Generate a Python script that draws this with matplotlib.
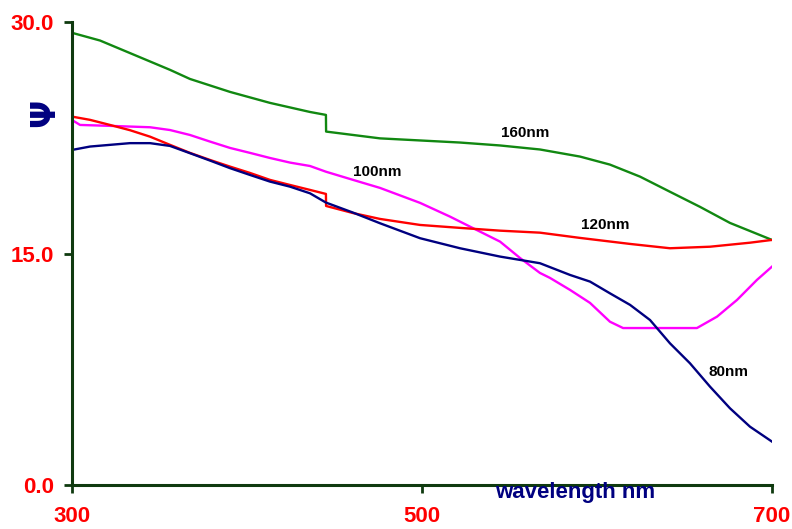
import matplotlib
matplotlib.use("Agg")
import matplotlib.pyplot as plt

plt.rcParams['font.family'] = ['Liberation Sans', 'DejaVu Sans']

# 160 nm (green)
wl_160 = [300, 316, 356, 367.4, 390.3, 413.1, 436, 445.1, 445.2, 476, 521.7, 544.6,
          567.4, 590.3, 607.4, 624.6, 641.7, 658.9, 676, 700]
psi_160 = [29.3, 28.8, 26.9, 26.31, 25.47, 24.76, 24.17, 23.98, 22.9, 22.46, 22.19, 22.0,
           21.74, 21.28, 20.76, 19.98, 19.0, 18.02, 16.98, 15.88]

# 100 nm (magenta)
wl_100 = [300, 304.6, 321.7, 344.6, 356, 367.4, 378.9, 390.3, 401.7, 413.1, 424.6, 436,
          445.1, 460.6, 476, 498.9, 516, 533.1, 544.6, 556, 567.4, 573.1, 584.6, 596,
          607.4, 614.9, 657.1, 668.6, 680, 691.4, 700]
psi_100 = [23.65, 23.33, 23.27, 23.18, 23.0, 22.68, 22.25, 21.84, 21.52, 21.19, 20.89, 20.67,
           20.3, 19.77, 19.25, 18.28, 17.39, 16.42, 15.77, 14.71, 13.74, 13.42, 12.64, 11.8,
           10.58, 10.17, 10.17, 10.91, 11.99, 13.29, 14.15]

# 120 nm (red)
wl_120 = [300, 310.3, 321.7, 333.1, 344.6, 356, 367.4, 378.9, 390.3, 401.7, 413.1, 424.6,
          436, 445.1, 445.2, 460.6, 476, 498.9, 521.7, 544.6, 567.4, 590.3, 618.9, 641.7,
          664.6, 687.4, 700]
psi_120 = [23.87, 23.66, 23.33, 22.99, 22.57, 22.04, 21.52, 21.06, 20.63, 20.22, 19.77, 19.44,
           19.12, 18.86, 18.08, 17.62, 17.24, 16.85, 16.66, 16.48, 16.35, 16.01, 15.62, 15.34,
           15.44, 15.7, 15.88]

# 80 nm (navy)
wl_80 = [300, 310.3, 321.7, 333.1, 344.6, 356, 367.4, 378.9, 390.3, 401.7, 413.1, 424.6,
         436, 445.1, 460.6, 476, 498.9, 521.7, 544.6, 567.4, 584.6, 596, 607.4, 618.9,
         630.3, 641.7, 653.1, 664.6, 676, 687.4, 700]
psi_80 = [21.71, 21.93, 22.04, 22.15, 22.15, 21.97, 21.5, 21.02, 20.53, 20.09, 19.66, 19.33,
          18.9, 18.3, 17.65, 16.96, 15.99, 15.34, 14.8, 14.37, 13.61, 13.18, 12.42, 11.67,
          10.69, 9.18, 7.89, 6.37, 4.97, 3.78, 2.81]

x_ticks = [300, 500, 700]
y_ticks = [0, 15, 30]
y_tick_labels = ["0.0", "15.0", "30.0"]

fig = plt.figure(figsize=(7.92, 5.29), dpi=100)
ax = fig.add_axes([72/792, 1-485/529, 700/792, 463/529])

ax.plot(wl_160, psi_160, color='#118811', lw=1.7)
ax.plot(wl_100, psi_100, color='#ff00ff', lw=1.7)
ax.plot(wl_120, psi_120, color='#ff0000', lw=1.7)
ax.plot(wl_80, psi_80, color='#000080', lw=1.7)

ax.set_xlim(300, 700)
ax.set_ylim(0, 30)
ax.set_xticks(x_ticks)
ax.set_xticklabels([str(v) for v in x_ticks])
ax.set_yticks(y_ticks)
ax.set_yticklabels(y_tick_labels)

for s in ['top', 'right']:
    ax.spines[s].set_visible(False)
for s in ['left', 'bottom']:
    ax.spines[s].set_color('#0f3a0f')
    ax.spines[s].set_linewidth(2.2)

ax.tick_params(axis='x', direction='out', length=6, width=2, color='#0f3a0f', pad=9,
               labelsize=16, labelcolor='#ff0000')
ax.tick_params(axis='y', direction='out', length=6, width=2, color='#0f3a0f', pad=7,
               labelsize=16, labelcolor='#ff0000')
for lab in ax.get_xticklabels() + ax.get_yticklabels():
    lab.set_fontweight('bold')

ax.text((575-72)/700, -0.016, 'wavelength nm', transform=ax.transAxes, ha='center', va='center',
        fontsize=16, fontweight='bold', color='#000080')
ax.text(-0.039, 24.1, 'Ψ', transform=ax.get_yaxis_transform(), ha='center', va='center',
        rotation=90, fontsize=24, fontweight='bold', color='#000080', family=['DejaVu Sans'])

labels = [("160nm", 558.9, 22.8), ("100nm", 474.3, 20.3), ("120nm", 604.6, 16.85), ("80nm", 674.9, 7.32)]
for t, x, y in labels:
    ax.text(x, y, t, ha='center', va='center', fontsize=11, fontweight='bold', color='black')

fig.savefig('out.png', dpi=100)
